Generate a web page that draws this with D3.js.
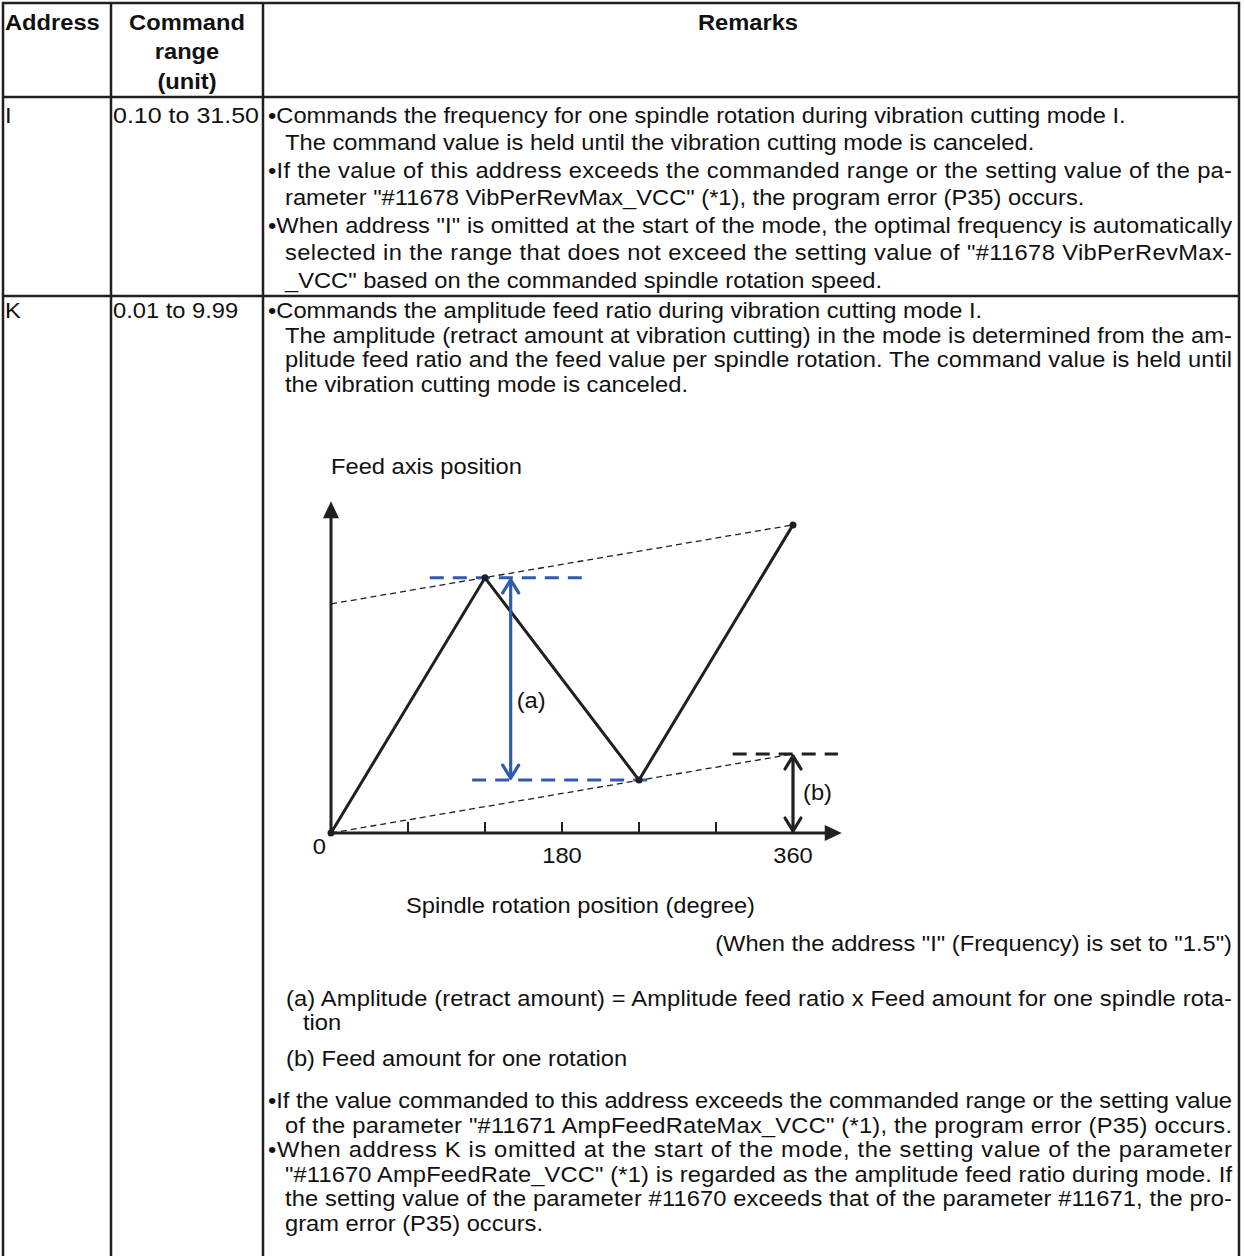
<!DOCTYPE html>
<html><head><meta charset="utf-8">
<script src="https://cdnjs.cloudflare.com/ajax/libs/d3/7.8.5/d3.min.js"></script>
<style>body{margin:0;background:#fff}svg{display:block}text{font-family:"Liberation Sans",Arial,sans-serif;fill:#111}</style>
</head><body><svg id="c" width="1245" height="1256"></svg>
<script>
// ---------- data ----------
const headerAddress = "Address";
const headerRange = ["Command", "range", "(unit)"];
const headerRemarks = "Remarks";
const addresses = ["I", "K"];
const commandRanges = ["0.10 to 31.50", "0.01 to 9.99"];
const remarksI = [
  "\u2022Commands the frequency for one spindle rotation during vibration cutting mode I.",
  "The command value is held until the vibration cutting mode is canceled.",
  "\u2022If the value of this address exceeds the commanded range or the setting value of the pa-",
  "rameter \"#11678 VibPerRevMax_VCC\" (*1), the program error (P35) occurs.",
  "\u2022When address \"I\" is omitted at the start of the mode, the optimal frequency is automatically",
  "selected in the range that does not exceed the setting value of \"#11678 VibPerRevMax-",
  "_VCC\" based on the commanded spindle rotation speed."
];
const remarksK = [
  "\u2022Commands the amplitude feed ratio during vibration cutting mode I.",
  "The amplitude (retract amount at vibration cutting) in the mode is determined from the am-",
  "plitude feed ratio and the feed value per spindle rotation. The command value is held until",
  "the vibration cutting mode is canceled."
];
const remarksK2 = [
  "(a) Amplitude (retract amount) = Amplitude feed ratio x Feed amount for one spindle rota-",
  "tion",
  "(b) Feed amount for one rotation",
  "\u2022If the value commanded to this address exceeds the commanded range or the setting value",
  "of the parameter \"#11671 AmpFeedRateMax_VCC\" (*1), the program error (P35) occurs.",
  "\u2022When address K is omitted at the start of the mode, the setting value of the parameter",
  "\"#11670 AmpFeedRate_VCC\" (*1) is regarded as the amplitude feed ratio during mode. If",
  "the setting value of the parameter #11670 exceeds that of the parameter #11671, the pro-",
  "gram error (P35) occurs."
];
// diagram data (feed per rotation = 1 unit)
const angleDeg = [0, 120, 240, 360];
const feedPosition = [0, 3.23, 0.67, 3.9];
const upperEnvelope = [[0, 2.9], [360, 3.9]];
const lowerEnvelope = [[0, 0], [360, 1]];
const tickDeg = [60, 120, 180, 240, 300];
const tickLabels = [["0", 0], ["180", 180], ["360", 360]];
const yAxisLabel = "Feed axis position";
const xAxisLabel = "Spindle rotation position (degree)";
const noteLabel = "(When the address \"I\" (Frequency) is set to \"1.5\")";
const ampLabel = "(a)", feedLabel = "(b)";
const ampRange = [0.67, 3.23], ampAt = 140;
const feedRange = [0, 1];
const bluePeakDash = [77, 196], blueValleyDash = [110, 248];
const blackDash = [313, 395];

// ---------- layout ----------
const svg = d3.select("#c");
svg.append("rect").attr("width", 1245).attr("height", 1256).attr("fill", "#fff");
const FS = 22, SX = 1.077, RIGHT = 1232;
const X0 = 3, XA = 111, XB = 263, XR = 1239;
const black = "#231f20", blue = "#2f5aad";

function txt(s, x, yc, opts = {}) {
  const t = svg.append("text")
    .attr("transform", `translate(${x},${yc + FS * 0.36}) scale(${SX},1)`)
    .attr("font-size", FS).text(s);
  if (opts.bold) t.attr("font-weight", "bold");
  if (opts.anchor) t.attr("text-anchor", opts.anchor);
  if (opts.justify) t.attr("textLength", (RIGHT - x) / SX).attr("lengthAdjust", "spacing");
  if (opts.len) t.attr("textLength", opts.len / SX).attr("lengthAdjust", "spacingAndGlyphs");
  return t;
}

// header
txt(headerAddress, 5, 22, {bold: true});
headerRange.forEach((s, i) => txt(s, 187, 22 + i * 29.5, {bold: true, anchor: "middle"}));
txt(headerRemarks, 748, 22, {bold: true, anchor: "middle"});
const headY = 97;

// row I
const SI = 27.5;
const rowIy = 115;
txt(addresses[0], 5, rowIy);
txt(commandRanges[0], 113, rowIy, {len: 146});
const indI = [268, 285, 268, 285, 268, 285, 285];
const jusI = [false, false, true, false, true, true, false];
remarksI.forEach((s, i) => txt(s, indI[i], rowIy + i * SI, {justify: jusI[i]}));
const sepY = rowIy + 6 * SI + 16;

// row K
const SK = 24.6;
const rowKy = sepY + 14;
txt(addresses[1], 5, rowKy);
txt(commandRanges[1], 113, rowKy);
const indK = [268, 285, 285, 285];
const jusK = [false, true, true, false];
remarksK.forEach((s, i) => txt(s, indK[i], rowKy + i * SK, {justify: jusK[i]}));

// second part of K remarks
const k2top = 1100;
const k2y = [998, 1022, 1058].concat(d3.range(6).map(i => k2top + i * SK));
const indK2 = [286, 303, 286, 268, 285, 268, 285, 285, 285];
const jusK2 = [true, false, false, true, true, true, true, true, false];
remarksK2.forEach((s, i) => txt(s, indK2[i], k2y[i], {justify: jusK2[i]}));

// table grid
const grid = svg.append("g").attr("stroke", black).attr("stroke-width", 2.5).attr("fill", "none");
grid.append("path").attr("d", `M${X0},1256 V${X0} H${XR} V1256`);
grid.append("line").attr("x1", XA).attr("x2", XA).attr("y1", X0).attr("y2", 1256);
grid.append("line").attr("x1", XB).attr("x2", XB).attr("y1", X0).attr("y2", 1256);
grid.append("line").attr("x1", X0).attr("x2", XR).attr("y1", headY).attr("y2", headY);
grid.append("line").attr("x1", X0).attr("x2", XR).attr("y1", sepY).attr("y2", sepY);

// ---------- diagram ----------
const x = d3.scaleLinear().domain([0, 360]).range([331, 793]);
const y = d3.scaleLinear().domain([0, 1]).range([833, 754]);
const g = svg.append("g");

txt(yAxisLabel, 331, 466);
txt(xAxisLabel, 406, 905);
txt(noteLabel, RIGHT, 943, {anchor: "end"});

// envelopes (thin dashed)
const line = d3.line().x(d => x(d[0])).y(d => y(d[1]));
[upperEnvelope, lowerEnvelope].forEach(e =>
  g.append("path").attr("d", line(e)).attr("fill", "none").attr("stroke", black)
    .attr("stroke-width", 1.3).attr("stroke-dasharray", "6,4"));

// blue dashed levels
g.append("line").attr("x1", x(bluePeakDash[0])).attr("x2", x(bluePeakDash[1]))
  .attr("y1", y(ampRange[1])).attr("y2", y(ampRange[1]))
  .attr("stroke", blue).attr("stroke-width", 3).attr("stroke-dasharray", "14,9");
g.append("line").attr("x1", x(blueValleyDash[0])).attr("x2", x(blueValleyDash[1]))
  .attr("y1", y(ampRange[0])).attr("y2", y(ampRange[0]))
  .attr("stroke", blue).attr("stroke-width", 3).attr("stroke-dasharray", "14,9");
// black dashed level
g.append("line").attr("x1", x(blackDash[0])).attr("x2", x(blackDash[1]))
  .attr("y1", y(feedRange[1])).attr("y2", y(feedRange[1]))
  .attr("stroke", black).attr("stroke-width", 3).attr("stroke-dasharray", "14,9");

// axes
const axG = g.append("g");
const yTop = 4.2, xEnd = 398;
axG.append("line").attr("x1", x(0)).attr("x2", x(0)).attr("y1", y(0)).attr("y2", y(yTop) + 14)
  .attr("stroke", black).attr("stroke-width", 3);
axG.append("path").attr("d", `M${x(0)},${y(yTop)} l-8,17 h16 z`).attr("fill", black);
axG.append("line").attr("x1", x(0)).attr("x2", x(xEnd) - 14).attr("y1", y(0)).attr("y2", y(0))
  .attr("stroke", black).attr("stroke-width", 3);
axG.append("path").attr("d", `M${x(xEnd)},${y(0)} l-17,-8 v16 z`).attr("fill", black);
axG.selectAll(".tick").data(tickDeg).join("line")
  .attr("x1", d => x(d)).attr("x2", d => x(d)).attr("y1", y(0)).attr("y2", y(0) - 11)
  .attr("stroke", black).attr("stroke-width", 2);
tickLabels.forEach(([s, d]) => {
  if (d === 0) txt(s, x(d) - 5, 846, {anchor: "end"});
  else txt(s, x(d), 855, {anchor: "middle"});
});

// zigzag
const pts = angleDeg.map((a, i) => [a, feedPosition[i]]);
g.append("path").attr("d", line(pts)).attr("fill", "none").attr("stroke", black)
  .attr("stroke-width", 3).attr("stroke-linejoin", "miter");
g.selectAll(".dot").data(pts).join("circle").attr("cx", d => x(d[0])).attr("cy", d => y(d[1]))
  .attr("r", 3.5).attr("fill", black);

// double arrows
function dblArrow(xv, y1v, y2v, color) {
  const xa = x(xv), ya = y(y1v), yb = y(y2v);
  const a = g.append("g").attr("stroke", color).attr("stroke-width", 3.2).attr("fill", "none")
    .attr("stroke-linecap", "round").attr("stroke-linejoin", "round");
  a.append("line").attr("x1", xa).attr("x2", xa).attr("y1", ya - 2).attr("y2", yb + 2);
  a.append("path").attr("d", `M${xa - 8},${yb + 15} L${xa},${yb + 2} L${xa + 8},${yb + 15}`);
  a.append("path").attr("d", `M${xa - 8},${ya - 15} L${xa},${ya - 2} L${xa + 8},${ya - 15}`);
}
dblArrow(ampAt, ampRange[0], ampRange[1], blue);
dblArrow(360, feedRange[0], feedRange[1], black);
txt(ampLabel, x(ampAt) + 6, y(1.68));
txt(feedLabel, x(360) + 10, y(0.52));
</script></body></html>
